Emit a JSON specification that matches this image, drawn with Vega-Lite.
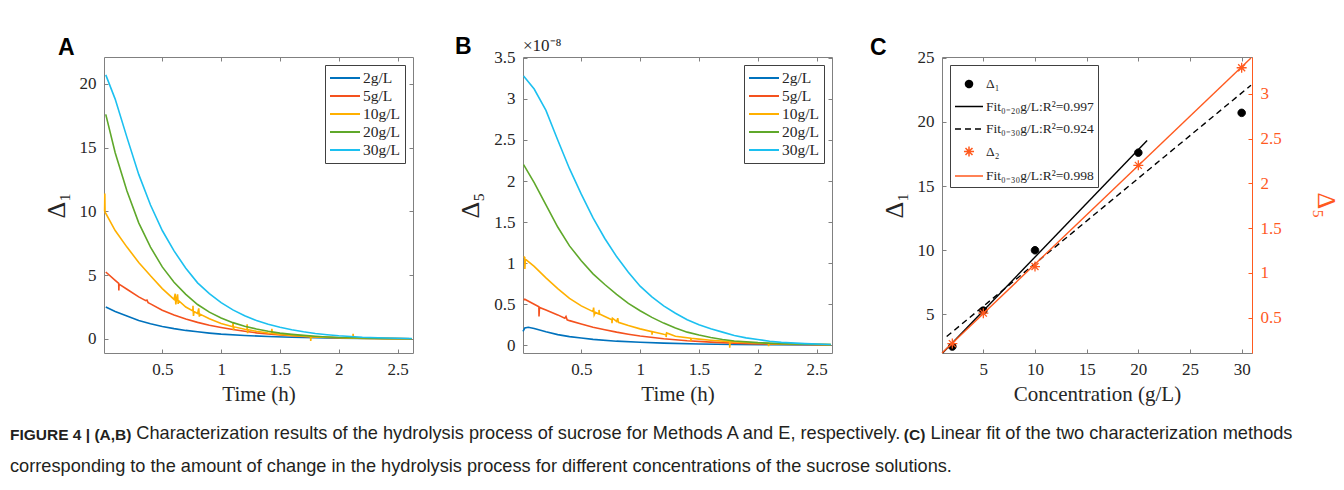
{
  "$schema": "https://vega.github.io/schema/vega-lite/v6.json",
  "background": "white",
  "padding": {"left": 10, "top": 35, "right": 10, "bottom": 10},
  "bounds": "flush",
  "spacing": 110,
  "resolve": {"scale": {"color": "independent", "stroke": "independent", "shape": "independent", "strokeDash": "independent"}, "legend": {"color": "independent", "stroke": "independent", "shape": "independent", "strokeDash": "independent"}},
  "config": {
    "font": "Liberation Serif",
    "view": {"stroke": "#808080", "strokeWidth": 1},
    "axis": {"labelFont": "Liberation Serif", "labelFontSize": 17, "labelColor": "#262626", "titleFont": "Liberation Serif", "titleFontSize": 21, "titleFontWeight": "normal", "titleColor": "#262626", "grid": false, "domain": false, "tickColor": "#808080", "tickSize": -4, "labelPadding": 12, "labelFlush": false, "format": "~g"},
    "legend": {"labelFont": "Liberation Serif", "labelColor": "#262626", "strokeColor": "#404040", "fillColor": "white"}
  },
  "datasets": {
    "A": [
      {"t":0.02,"v":2.5,"c":"2g/L"},{"t":0.1,"v":2.15,"c":"2g/L"},{"t":0.2,"v":1.8,"c":"2g/L"},{"t":0.3,"v":1.45,"c":"2g/L"},{"t":0.4,"v":1.2,"c":"2g/L"},{"t":0.5,"v":0.98,"c":"2g/L"},{"t":0.6,"v":0.81,"c":"2g/L"},{"t":0.7,"v":0.67,"c":"2g/L"},{"t":0.8,"v":0.56,"c":"2g/L"},{"t":0.9,"v":0.46,"c":"2g/L"},{"t":1.0,"v":0.38,"c":"2g/L"},{"t":1.2,"v":0.27,"c":"2g/L"},{"t":1.4,"v":0.19,"c":"2g/L"},{"t":1.6,"v":0.13,"c":"2g/L"},{"t":1.8,"v":0.09,"c":"2g/L"},{"t":2.0,"v":0.06,"c":"2g/L"},{"t":2.2,"v":0.04,"c":"2g/L"},{"t":2.4,"v":0.03,"c":"2g/L"},{"t":2.62,"v":0.02,"c":"2g/L"},
      {"t":0.02,"v":5.25,"c":"5g/L"},{"t":0.1,"v":4.6,"c":"5g/L"},{"t":0.13,"v":4.35,"c":"5g/L"},{"t":0.131,"v":3.8,"c":"5g/L"},{"t":0.133,"v":4.3,"c":"5g/L"},{"t":0.2,"v":3.9,"c":"5g/L"},{"t":0.3,"v":3.3,"c":"5g/L"},{"t":0.36,"v":3.0,"c":"5g/L"},{"t":0.37,"v":3.05,"c":"5g/L"},{"t":0.38,"v":2.85,"c":"5g/L"},{"t":0.4,"v":2.75,"c":"5g/L"},{"t":0.5,"v":2.25,"c":"5g/L"},{"t":0.6,"v":1.87,"c":"5g/L"},{"t":0.7,"v":1.56,"c":"5g/L"},{"t":0.8,"v":1.3,"c":"5g/L"},{"t":0.9,"v":1.08,"c":"5g/L"},{"t":1.0,"v":0.9,"c":"5g/L"},{"t":1.1,"v":0.74,"c":"5g/L"},{"t":1.2,"v":0.6,"c":"5g/L"},{"t":1.3,"v":0.48,"c":"5g/L"},{"t":1.4,"v":0.39,"c":"5g/L"},{"t":1.5,"v":0.31,"c":"5g/L"},{"t":1.6,"v":0.25,"c":"5g/L"},{"t":1.7,"v":0.2,"c":"5g/L"},{"t":1.8,"v":0.16,"c":"5g/L"},{"t":2.0,"v":0.1,"c":"5g/L"},{"t":2.2,"v":0.06,"c":"5g/L"},{"t":2.4,"v":0.04,"c":"5g/L"},{"t":2.62,"v":0.02,"c":"5g/L"},
      {"t":0.01,"v":10.0,"c":"10g/L"},{"t":0.012,"v":11.4,"c":"10g/L"},{"t":0.014,"v":9.9,"c":"10g/L"},{"t":0.02,"v":9.85,"c":"10g/L"},{"t":0.1,"v":8.5,"c":"10g/L"},{"t":0.2,"v":7.2,"c":"10g/L"},{"t":0.3,"v":6.0,"c":"10g/L"},{"t":0.4,"v":4.95,"c":"10g/L"},{"t":0.5,"v":3.95,"c":"10g/L"},{"t":0.6,"v":3.1,"c":"10g/L"},{"t":0.61,"v":3.55,"c":"10g/L"},{"t":0.615,"v":2.7,"c":"10g/L"},{"t":0.62,"v":3.05,"c":"10g/L"},{"t":0.63,"v":3.5,"c":"10g/L"},{"t":0.635,"v":2.75,"c":"10g/L"},{"t":0.64,"v":3.0,"c":"10g/L"},{"t":0.7,"v":2.5,"c":"10g/L"},{"t":0.76,"v":2.2,"c":"10g/L"},{"t":0.761,"v":2.6,"c":"10g/L"},{"t":0.765,"v":1.8,"c":"10g/L"},{"t":0.77,"v":2.15,"c":"10g/L"},{"t":0.8,"v":2.0,"c":"10g/L"},{"t":0.81,"v":2.4,"c":"10g/L"},{"t":0.815,"v":1.75,"c":"10g/L"},{"t":0.82,"v":1.95,"c":"10g/L"},{"t":0.9,"v":1.58,"c":"10g/L"},{"t":1.0,"v":1.22,"c":"10g/L"},{"t":1.1,"v":0.96,"c":"10g/L"},{"t":1.101,"v":1.3,"c":"10g/L"},{"t":1.105,"v":0.7,"c":"10g/L"},{"t":1.11,"v":0.95,"c":"10g/L"},{"t":1.2,"v":0.76,"c":"10g/L"},{"t":1.22,"v":0.73,"c":"10g/L"},{"t":1.221,"v":1.15,"c":"10g/L"},{"t":1.225,"v":0.45,"c":"10g/L"},{"t":1.23,"v":0.72,"c":"10g/L"},{"t":1.3,"v":0.6,"c":"10g/L"},{"t":1.4,"v":0.47,"c":"10g/L"},{"t":1.43,"v":0.44,"c":"10g/L"},{"t":1.431,"v":0.8,"c":"10g/L"},{"t":1.435,"v":0.44,"c":"10g/L"},{"t":1.5,"v":0.36,"c":"10g/L"},{"t":1.6,"v":0.28,"c":"10g/L"},{"t":1.7,"v":0.21,"c":"10g/L"},{"t":1.76,"v":0.18,"c":"10g/L"},{"t":1.761,"v":-0.15,"c":"10g/L"},{"t":1.765,"v":0.17,"c":"10g/L"},{"t":1.8,"v":0.16,"c":"10g/L"},{"t":2.0,"v":0.09,"c":"10g/L"},{"t":2.12,"v":0.07,"c":"10g/L"},{"t":2.121,"v":0.4,"c":"10g/L"},{"t":2.125,"v":0.07,"c":"10g/L"},{"t":2.2,"v":0.05,"c":"10g/L"},{"t":2.4,"v":0.03,"c":"10g/L"},{"t":2.62,"v":0.02,"c":"10g/L"},
      {"t":0.02,"v":17.6,"c":"20g/L"},{"t":0.1,"v":14.6,"c":"20g/L"},{"t":0.2,"v":11.6,"c":"20g/L"},{"t":0.3,"v":9.1,"c":"20g/L"},{"t":0.4,"v":7.2,"c":"20g/L"},{"t":0.5,"v":5.65,"c":"20g/L"},{"t":0.6,"v":4.45,"c":"20g/L"},{"t":0.7,"v":3.5,"c":"20g/L"},{"t":0.8,"v":2.7,"c":"20g/L"},{"t":0.9,"v":2.1,"c":"20g/L"},{"t":1.0,"v":1.65,"c":"20g/L"},{"t":1.1,"v":1.28,"c":"20g/L"},{"t":1.2,"v":1.0,"c":"20g/L"},{"t":1.3,"v":0.78,"c":"20g/L"},{"t":1.4,"v":0.6,"c":"20g/L"},{"t":1.5,"v":0.46,"c":"20g/L"},{"t":1.6,"v":0.36,"c":"20g/L"},{"t":1.7,"v":0.28,"c":"20g/L"},{"t":1.8,"v":0.21,"c":"20g/L"},{"t":1.9,"v":0.16,"c":"20g/L"},{"t":2.0,"v":0.12,"c":"20g/L"},{"t":2.2,"v":0.07,"c":"20g/L"},{"t":2.4,"v":0.04,"c":"20g/L"},{"t":2.62,"v":0.02,"c":"20g/L"},
      {"t":0.02,"v":20.7,"c":"30g/L"},{"t":0.1,"v":18.8,"c":"30g/L"},{"t":0.2,"v":15.8,"c":"30g/L"},{"t":0.3,"v":12.9,"c":"30g/L"},{"t":0.4,"v":10.5,"c":"30g/L"},{"t":0.5,"v":8.5,"c":"30g/L"},{"t":0.6,"v":6.9,"c":"30g/L"},{"t":0.7,"v":5.55,"c":"30g/L"},{"t":0.8,"v":4.4,"c":"30g/L"},{"t":0.9,"v":3.55,"c":"30g/L"},{"t":1.0,"v":2.85,"c":"30g/L"},{"t":1.1,"v":2.28,"c":"30g/L"},{"t":1.2,"v":1.82,"c":"30g/L"},{"t":1.3,"v":1.45,"c":"30g/L"},{"t":1.4,"v":1.16,"c":"30g/L"},{"t":1.5,"v":0.92,"c":"30g/L"},{"t":1.6,"v":0.72,"c":"30g/L"},{"t":1.7,"v":0.56,"c":"30g/L"},{"t":1.8,"v":0.43,"c":"30g/L"},{"t":1.9,"v":0.33,"c":"30g/L"},{"t":2.0,"v":0.25,"c":"30g/L"},{"t":2.2,"v":0.14,"c":"30g/L"},{"t":2.4,"v":0.08,"c":"30g/L"},{"t":2.62,"v":0.04,"c":"30g/L"}
    ],
    "B": [
      {"t":0.005,"v":0.17,"c":"2g/L"},{"t":0.02,"v":0.21,"c":"2g/L"},{"t":0.05,"v":0.22,"c":"2g/L"},{"t":0.1,"v":0.205,"c":"2g/L"},{"t":0.2,"v":0.165,"c":"2g/L"},{"t":0.3,"v":0.13,"c":"2g/L"},{"t":0.4,"v":0.105,"c":"2g/L"},{"t":0.5,"v":0.088,"c":"2g/L"},{"t":0.6,"v":0.072,"c":"2g/L"},{"t":0.8,"v":0.05,"c":"2g/L"},{"t":1.0,"v":0.036,"c":"2g/L"},{"t":1.2,"v":0.026,"c":"2g/L"},{"t":1.5,"v":0.016,"c":"2g/L"},{"t":1.8,"v":0.01,"c":"2g/L"},{"t":2.1,"v":0.006,"c":"2g/L"},{"t":2.62,"v":0.003,"c":"2g/L"},
      {"t":0.01,"v":0.55,"c":"5g/L"},{"t":0.02,"v":0.56,"c":"5g/L"},{"t":0.1,"v":0.5,"c":"5g/L"},{"t":0.14,"v":0.47,"c":"5g/L"},{"t":0.141,"v":0.35,"c":"5g/L"},{"t":0.145,"v":0.46,"c":"5g/L"},{"t":0.2,"v":0.43,"c":"5g/L"},{"t":0.3,"v":0.37,"c":"5g/L"},{"t":0.36,"v":0.33,"c":"5g/L"},{"t":0.37,"v":0.35,"c":"5g/L"},{"t":0.38,"v":0.31,"c":"5g/L"},{"t":0.4,"v":0.3,"c":"5g/L"},{"t":0.5,"v":0.26,"c":"5g/L"},{"t":0.6,"v":0.22,"c":"5g/L"},{"t":0.7,"v":0.19,"c":"5g/L"},{"t":0.8,"v":0.16,"c":"5g/L"},{"t":0.9,"v":0.135,"c":"5g/L"},{"t":1.0,"v":0.113,"c":"5g/L"},{"t":1.2,"v":0.08,"c":"5g/L"},{"t":1.4,"v":0.055,"c":"5g/L"},{"t":1.6,"v":0.038,"c":"5g/L"},{"t":1.8,"v":0.026,"c":"5g/L"},{"t":2.0,"v":0.017,"c":"5g/L"},{"t":2.3,"v":0.01,"c":"5g/L"},{"t":2.62,"v":0.005,"c":"5g/L"},
      {"t":0.01,"v":1.08,"c":"10g/L"},{"t":0.02,"v":1.07,"c":"10g/L"},{"t":0.021,"v":0.93,"c":"10g/L"},{"t":0.025,"v":1.05,"c":"10g/L"},{"t":0.1,"v":0.96,"c":"10g/L"},{"t":0.2,"v":0.82,"c":"10g/L"},{"t":0.3,"v":0.69,"c":"10g/L"},{"t":0.4,"v":0.57,"c":"10g/L"},{"t":0.5,"v":0.48,"c":"10g/L"},{"t":0.6,"v":0.41,"c":"10g/L"},{"t":0.605,"v":0.46,"c":"10g/L"},{"t":0.61,"v":0.37,"c":"10g/L"},{"t":0.62,"v":0.4,"c":"10g/L"},{"t":0.65,"v":0.38,"c":"10g/L"},{"t":0.651,"v":0.43,"c":"10g/L"},{"t":0.655,"v":0.38,"c":"10g/L"},{"t":0.7,"v":0.35,"c":"10g/L"},{"t":0.76,"v":0.31,"c":"10g/L"},{"t":0.761,"v":0.27,"c":"10g/L"},{"t":0.765,"v":0.33,"c":"10g/L"},{"t":0.8,"v":0.29,"c":"10g/L"},{"t":0.81,"v":0.33,"c":"10g/L"},{"t":0.815,"v":0.28,"c":"10g/L"},{"t":0.9,"v":0.24,"c":"10g/L"},{"t":1.0,"v":0.2,"c":"10g/L"},{"t":1.1,"v":0.165,"c":"10g/L"},{"t":1.101,"v":0.13,"c":"10g/L"},{"t":1.105,"v":0.165,"c":"10g/L"},{"t":1.2,"v":0.135,"c":"10g/L"},{"t":1.22,"v":0.13,"c":"10g/L"},{"t":1.221,"v":0.1,"c":"10g/L"},{"t":1.225,"v":0.15,"c":"10g/L"},{"t":1.3,"v":0.11,"c":"10g/L"},{"t":1.43,"v":0.085,"c":"10g/L"},{"t":1.431,"v":0.05,"c":"10g/L"},{"t":1.435,"v":0.085,"c":"10g/L"},{"t":1.5,"v":0.075,"c":"10g/L"},{"t":1.6,"v":0.062,"c":"10g/L"},{"t":1.76,"v":0.045,"c":"10g/L"},{"t":1.761,"v":-0.03,"c":"10g/L"},{"t":1.765,"v":0.045,"c":"10g/L"},{"t":1.8,"v":0.042,"c":"10g/L"},{"t":2.0,"v":0.028,"c":"10g/L"},{"t":2.09,"v":0.022,"c":"10g/L"},{"t":2.091,"v":-0.01,"c":"10g/L"},{"t":2.095,"v":0.022,"c":"10g/L"},{"t":2.3,"v":0.015,"c":"10g/L"},{"t":2.62,"v":0.008,"c":"10g/L"},
      {"t":0.01,"v":2.2,"c":"20g/L"},{"t":0.1,"v":1.98,"c":"20g/L"},{"t":0.2,"v":1.71,"c":"20g/L"},{"t":0.3,"v":1.44,"c":"20g/L"},{"t":0.4,"v":1.21,"c":"20g/L"},{"t":0.5,"v":1.03,"c":"20g/L"},{"t":0.6,"v":0.87,"c":"20g/L"},{"t":0.7,"v":0.74,"c":"20g/L"},{"t":0.8,"v":0.62,"c":"20g/L"},{"t":0.9,"v":0.51,"c":"20g/L"},{"t":1.0,"v":0.42,"c":"20g/L"},{"t":1.1,"v":0.34,"c":"20g/L"},{"t":1.2,"v":0.27,"c":"20g/L"},{"t":1.3,"v":0.21,"c":"20g/L"},{"t":1.4,"v":0.16,"c":"20g/L"},{"t":1.5,"v":0.125,"c":"20g/L"},{"t":1.6,"v":0.095,"c":"20g/L"},{"t":1.7,"v":0.07,"c":"20g/L"},{"t":1.8,"v":0.052,"c":"20g/L"},{"t":2.0,"v":0.032,"c":"20g/L"},{"t":2.2,"v":0.02,"c":"20g/L"},{"t":2.4,"v":0.012,"c":"20g/L"},{"t":2.62,"v":0.008,"c":"20g/L"},
      {"t":0.01,"v":3.28,"c":"30g/L"},{"t":0.1,"v":3.12,"c":"30g/L"},{"t":0.2,"v":2.86,"c":"30g/L"},{"t":0.3,"v":2.5,"c":"30g/L"},{"t":0.4,"v":2.15,"c":"30g/L"},{"t":0.5,"v":1.84,"c":"30g/L"},{"t":0.6,"v":1.55,"c":"30g/L"},{"t":0.7,"v":1.3,"c":"30g/L"},{"t":0.8,"v":1.08,"c":"30g/L"},{"t":0.9,"v":0.89,"c":"30g/L"},{"t":1.0,"v":0.72,"c":"30g/L"},{"t":1.1,"v":0.59,"c":"30g/L"},{"t":1.2,"v":0.48,"c":"30g/L"},{"t":1.3,"v":0.39,"c":"30g/L"},{"t":1.4,"v":0.31,"c":"30g/L"},{"t":1.5,"v":0.25,"c":"30g/L"},{"t":1.6,"v":0.2,"c":"30g/L"},{"t":1.7,"v":0.16,"c":"30g/L"},{"t":1.8,"v":0.12,"c":"30g/L"},{"t":1.9,"v":0.09,"c":"30g/L"},{"t":2.0,"v":0.07,"c":"30g/L"},{"t":2.1,"v":0.05,"c":"30g/L"},{"t":2.2,"v":0.035,"c":"30g/L"},{"t":2.4,"v":0.02,"c":"30g/L"},{"t":2.62,"v":0.01,"c":"30g/L"}
    ],
    "C1": [
      {"conc":2,"val":2.5,"series":"Δ₁"},{"conc":5,"val":5.3,"series":"Δ₁"},{"conc":10,"val":10.0,"series":"Δ₁"},{"conc":20,"val":17.6,"series":"Δ₁"},{"conc":30,"val":20.7,"series":"Δ₁"}
    ],
    "fit020": [{"conc":1.06,"val":2.0},{"conc":20.85,"val":18.54}],
    "fit030": [{"conc":1.45,"val":3.28},{"conc":30.9,"val":22.85}],
    "C2": [
      {"conc":2,"val":0.21},{"conc":5,"val":0.55},{"conc":10,"val":1.07},{"conc":20,"val":2.2},{"conc":30,"val":3.29}
    ],
    "fitR": [{"conc":1.0,"val":0.105},{"conc":30.9,"val":3.40}]
  },
  "title": {
    "text": "FIGURE 4 | (A,B)\u2003\u2003\u2003\u2003\u2003\u2003\u2003\u2003\u2003\u2003\u2003\u2003\u2003\u2003\u2003\u2003\u2003\u2003\u2003\u2003\u2003\u2003\u2003\u2003\u2003\u2003\u2003\u2003\u2003\u2003\u2003\u2003\u2003\u2003\u2003\u2003\u2003\u2003\u2003\u2003\u2003\u2003\u2003\u2003\u2003\u2003\u2003\u2003\u2003\u00a0\u00a0\u00a0(C)",
    "subtitle": [
      "\u200b\u00a0\u00a0\u00a0\u00a0\u00a0\u00a0\u00a0\u00a0\u00a0\u00a0\u00a0\u00a0\u00a0\u00a0\u00a0\u00a0\u00a0\u00a0\u00a0\u00a0\u00a0\u00a0\u00a0\u00a0\u00a0Characterization results of the hydrolysis process of sucrose for Methods A and E, respectively.\u00a0\u00a0\u00a0\u00a0\u00a0\u00a0Linear fit of the two characterization methods",
      "corresponding to the amount of change in the hydrolysis process for different concentrations of the sucrose solutions."
    ],
    "orient": "bottom",
    "anchor": "start",
    "frame": "group",
    "dx": -94,
    "offset": 23,
    "font": "Liberation Sans",
    "fontSize": 15.5,
    "fontWeight": "bold",
    "color": "#231f20",
    "subtitleFont": "Liberation Sans",
    "subtitleFontSize": 18.2,
    "subtitleFontWeight": "normal",
    "subtitleColor": "#231f20",
    "subtitleLineHeight": 33,
    "subtitlePadding": -17.6
  },
  "hconcat": [
    {
      "width": 309,
      "height": 296,
      "title": {"text": "A", "anchor": "start", "frame": "group", "dx": -46, "offset": -3, "font": "Liberation Sans", "fontSize": 23, "fontWeight": "bold", "color": "#000000"},
      "resolve": {"axis": {"x": "independent", "y": "independent"}},
      "layer": [
        {
          "data": {"name": "A"},
          "mark": {"type": "line", "strokeWidth": 1.6},
          "encoding": {
            "x": {"field": "t", "type": "quantitative", "scale": {"domain": [0.005, 2.63], "nice": false, "zero": false}, "axis": {"orient": "bottom", "title": "Time (h)", "values": [0.5, 1, 1.5, 2, 2.5], "titlePadding": 6}},
            "y": {"field": "v", "type": "quantitative", "scale": {"domain": [-1.1, 22.1], "nice": false, "zero": false}, "axis": {"orient": "left", "title": "Δ₁", "values": [0, 5, 10, 15, 20], "titleFontSize": 26, "titlePadding": 10}},
            "color": {"field": "c", "type": "nominal", "scale": {"domain": ["2g/L", "5g/L", "10g/L", "20g/L", "30g/L"], "range": ["#0072BD", "#F4511E", "#FFB000", "#5FA82A", "#1CC0F0"]}, "legend": {"title": null, "orient": "top-right", "offset": 8, "padding": 4, "symbolType": "M-1,0L2.75,0", "symbolSize": 256, "symbolStrokeWidth": 2, "labelFontSize": 15.5, "labelOffset": 16, "rowPadding": 0}}
          }
        },
        {
          "data": {"values": [{"note": ""}]},
          "mark": {"type": "text", "opacity": 0},
          "encoding": {
            "x": {"datum": 1, "type": "quantitative", "axis": {"orient": "top", "labels": false, "title": null, "values": [0.5, 1, 1.5, 2, 2.5]}},
            "y": {"datum": 0, "type": "quantitative", "axis": {"orient": "right", "labels": false, "title": null, "values": [0, 5, 10, 15, 20]}},
            "text": {"field": "note"}
          }
        }
      ]
    },
    {
      "width": 309,
      "height": 296,
      "title": {"text": "B", "anchor": "start", "frame": "group", "dx": -68, "offset": -22, "font": "Liberation Sans", "fontSize": 23, "fontWeight": "bold", "color": "#000000"},
      "resolve": {"axis": {"x": "independent", "y": "independent"}},
      "layer": [
        {
          "data": {"name": "B"},
          "mark": {"type": "line", "strokeWidth": 1.6},
          "encoding": {
            "x": {"field": "t", "type": "quantitative", "scale": {"domain": [0.005, 2.63], "nice": false, "zero": false}, "axis": {"orient": "bottom", "title": "Time (h)", "values": [0.5, 1, 1.5, 2, 2.5], "titlePadding": 6}},
            "y": {"field": "v", "type": "quantitative", "scale": {"domain": [-0.094, 3.51], "nice": false, "zero": false}, "axis": {"orient": "left", "title": "Δ₅", "values": [0, 0.5, 1, 1.5, 2, 2.5, 3, 3.5], "titleFontSize": 26, "titlePadding": 10}},
            "color": {"field": "c", "type": "nominal", "scale": {"domain": ["2g/L", "5g/L", "10g/L", "20g/L", "30g/L"], "range": ["#0072BD", "#F4511E", "#FFB000", "#5FA82A", "#1CC0F0"]}, "legend": {"title": null, "orient": "top-right", "offset": 8, "padding": 4, "symbolType": "M-1,0L2.75,0", "symbolSize": 256, "symbolStrokeWidth": 2, "labelFontSize": 15.5, "labelOffset": 16, "rowPadding": 0}}
          }
        },
        {
          "data": {"values": [{"note": "×10⁻⁸"}]},
          "mark": {"type": "text", "align": "left", "baseline": "bottom", "dy": -2, "fontSize": 17, "font": "Liberation Serif", "color": "#262626"},
          "encoding": {
            "x": {"datum": 0.005, "type": "quantitative", "axis": {"orient": "top", "labels": false, "title": null, "values": [0.5, 1, 1.5, 2, 2.5]}},
            "y": {"datum": 3.51, "type": "quantitative", "axis": {"orient": "right", "labels": false, "title": null, "values": [0, 0.5, 1, 1.5, 2, 2.5, 3, 3.5]}},
            "text": {"field": "note"}
          }
        }
      ]
    },
    {
      "width": 310,
      "height": 296,
      "title": {"text": "C", "anchor": "start", "frame": "group", "dx": -72, "offset": -11, "font": "Liberation Sans", "fontSize": 23, "fontWeight": "bold", "color": "#000000"},
      "layer": [
        {
          "encoding": {
            "x": {"field": "conc", "type": "quantitative", "scale": {"domain": [1, 31], "nice": false, "zero": false}, "axis": {"orient": "bottom", "title": "Concentration (g/L)", "values": [5, 10, 15, 20, 25, 30], "titlePadding": 6}},
            "y": {"field": "val", "type": "quantitative", "scale": {"domain": [2, 25.05], "nice": false, "zero": false}, "axis": {"orient": "left", "title": "Δ₁", "values": [5, 10, 15, 20, 25], "titleFontSize": 26, "titlePadding": 10}}
          },
          "layer": [
            {"data": {"name": "fit020"}, "mark": {"type": "line", "color": "#000000", "strokeWidth": 1.4}},
            {"data": {"name": "fit030"}, "mark": {"type": "line", "color": "#000000", "strokeWidth": 1.4, "strokeDash": [6, 4]}},
            {
              "data": {"name": "C1"},
              "mark": {"type": "point", "filled": false, "fill": "#000000", "size": 900, "opacity": 1, "strokeWidth": 1},
              "encoding": {
                "stroke": {"field": "series", "type": "nominal",
                  "scale": {"domain": ["Δ₁", "Fit₀₋₂₀g/L:R²=0.997", "Fit₀₋₃₀g/L:R²=0.924", "Δ₂", "Fit₀₋₃₀g/L:R²=0.998"], "range": ["#000000", "#000000", "#000000", "#FF5A1F", "#FF5A1F"]},
                  "legend": {"title": null, "orient": "top-left", "offset": 8, "padding": 4, "symbolSize": 784, "symbolStrokeWidth": 1.5, "symbolFillColor": "#000000", "labelFontSize": 13.5, "labelOffset": 2, "rowPadding": 0.5, "labelLimit": 200}
                },
                "shape": {"field": "series", "type": "nominal",
                  "scale": {"domain": ["Δ₁", "Fit₀₋₂₀g/L:R²=0.997", "Fit₀₋₃₀g/L:R²=0.924", "Δ₂", "Fit₀₋₃₀g/L:R²=0.998"], "range": ["M0,-0.25A0.25,0.25 0 1,1 0,0.25A0.25,0.25 0 1,1 0,-0.25Z", "M-1,0L1,0", "M-1,0L1,0", "M0,-0.36L0,0.36M-0.36,0L0.36,0M-0.25,-0.25L0.25,0.25M-0.25,0.25L0.25,-0.25", "M-1,0L1,0"]},
                  "legend": {"title": null, "orient": "top-left", "offset": 8, "padding": 4, "symbolSize": 784, "symbolStrokeWidth": 1.5, "symbolFillColor": "#000000", "labelFontSize": 13.5, "labelOffset": 2, "rowPadding": 0.5, "labelLimit": 200}
                },
                "strokeDash": {"field": "series", "type": "nominal",
                  "scale": {"domain": ["Δ₁", "Fit₀₋₂₀g/L:R²=0.997", "Fit₀₋₃₀g/L:R²=0.924", "Δ₂", "Fit₀₋₃₀g/L:R²=0.998"], "range": [[1, 0], [1, 0], [6, 4], [1, 0], [1, 0]]},
                  "legend": {"title": null, "orient": "top-left", "offset": 8, "padding": 4, "symbolSize": 784, "symbolStrokeWidth": 1.5, "symbolFillColor": "#000000", "labelFontSize": 13.5, "labelOffset": 2, "rowPadding": 0.5, "labelLimit": 200}
                }
              }
            }
          ]
        },
        {
          "encoding": {
            "x": {"field": "conc", "type": "quantitative"},
            "y": {"field": "val", "type": "quantitative", "scale": {"domain": [0.105, 3.41], "nice": false, "zero": false}, "axis": {"orient": "right", "title": "Δ₅", "values": [0.5, 1, 1.5, 2, 2.5, 3], "titleFontSize": 26, "titlePadding": 31, "labelColor": "#FF5A1F", "titleColor": "#FF5A1F", "tickColor": "#FF5A1F", "domain": true, "domainColor": "#FF5A1F"}}
          },
          "layer": [
            {"data": {"name": "fitR"}, "mark": {"type": "line", "color": "#FF5A1F", "strokeWidth": 1.4}},
            {"data": {"name": "C2"}, "mark": {"type": "point", "shape": "M0,-1L0,1M-1,0L1,0M-0.7,-0.7L0.7,0.7M-0.7,0.7L0.7,-0.7", "filled": false, "size": 100, "color": "#FF5A1F", "strokeWidth": 1.3, "opacity": 1}},
            {
              "data": {"values": [{"note": "×10⁻⁸"}]},
              "mark": {"type": "text", "align": "left", "baseline": "bottom", "dx": 3, "dy": -4, "fontSize": 17, "font": "Liberation Serif", "color": "#FF5A1F"},
              "encoding": {
                "x": {"datum": 31, "type": "quantitative", "axis": {"orient": "top", "labels": false, "title": null, "values": [5, 10, 15, 20, 25, 30]}},
                "y": {"datum": 3.41, "type": "quantitative"},
                "text": {"field": "note"}
              }
            }
          ]
        }
      ],
      "resolve": {"scale": {"y": "independent"}, "axis": {"x": "independent"}}
    }
  ]
}
